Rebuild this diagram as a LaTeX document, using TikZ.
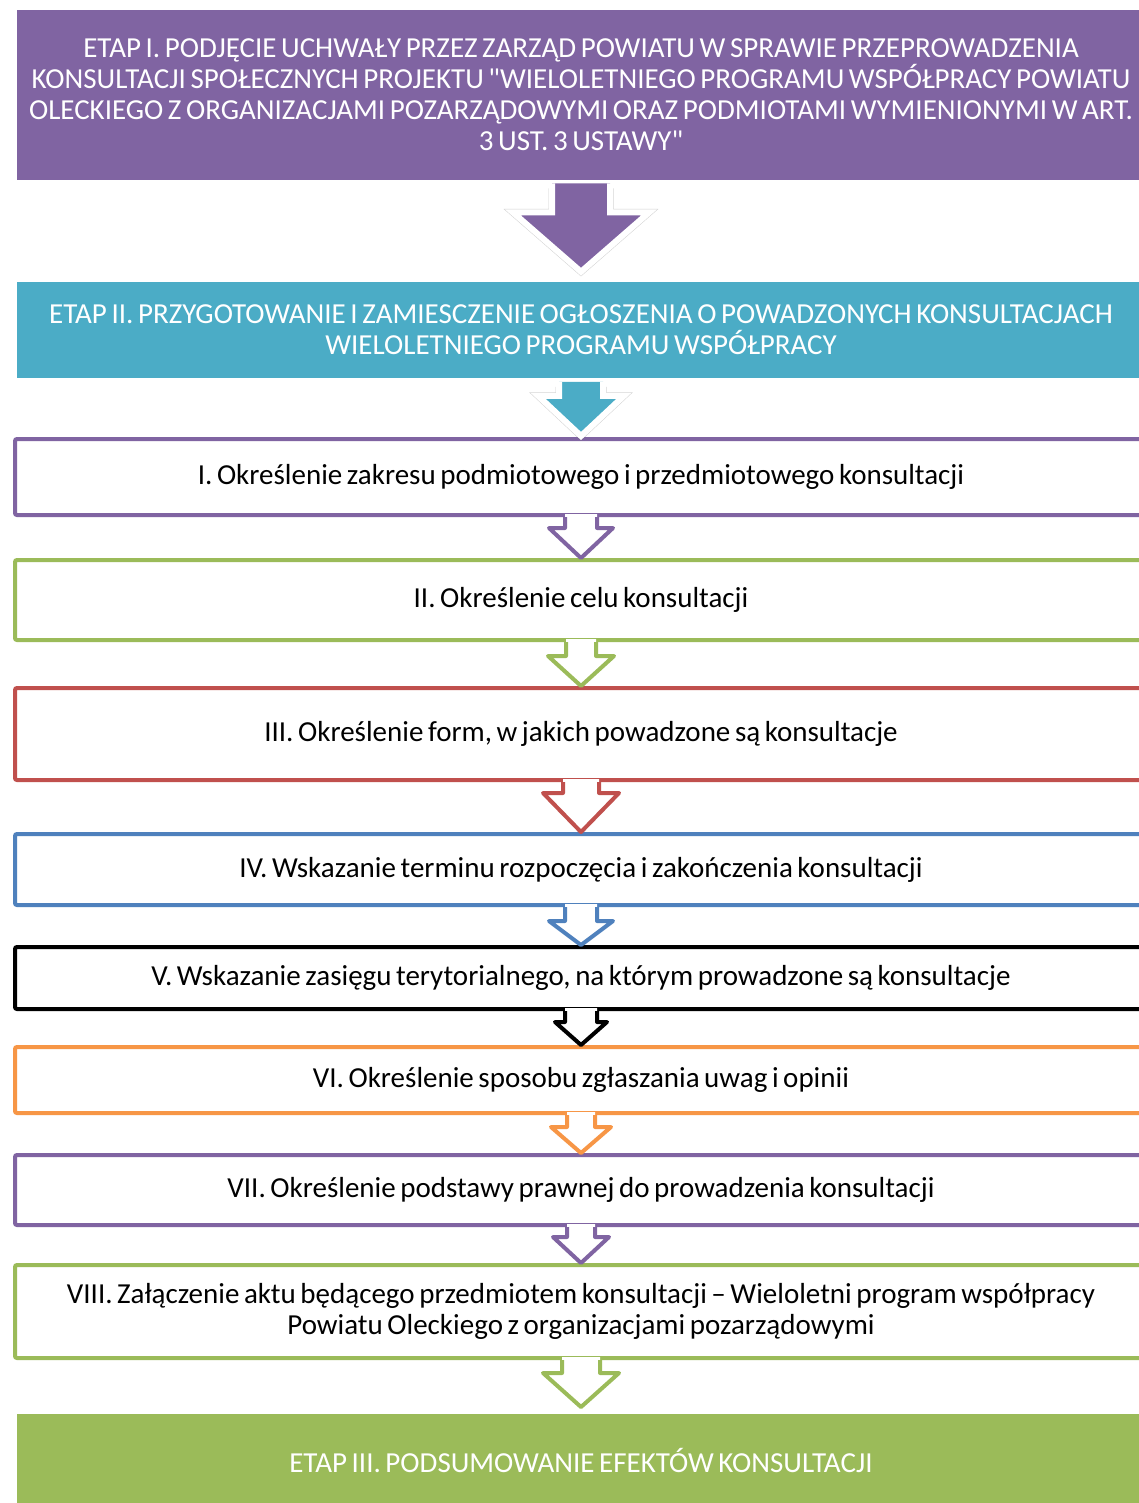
\documentclass[tikz,border=0pt]{standalone}
\usepackage{fontspec}
\setmainfont{Carlito}[WordSpace=0.7, Ligatures=TeXOff]
\usetikzlibrary{shadows,calc}
\definecolor{cpurple}{HTML}{8064A2}
\definecolor{cteal}{HTML}{4BACC6}
\definecolor{cgreen}{HTML}{9BBB59}
\definecolor{cred}{HTML}{C0504D}
\definecolor{cblue}{HTML}{4F81BD}
\definecolor{corange}{HTML}{F79646}
\newcommand\outarrow[6]{%
  \path (#2.south) coordinate (aT) (#3.north) coordinate (aB);
  \fill[white] ($(aT)+(-#4,-3)$) -- ($(aT)+(-#4,#6)$) -- ($(aT)+(-#5,#6)$) -- (aB)
     -- ($(aT)+(#5,#6)$) -- ($(aT)+(#4,#6)$) -- ($(aT)+(#4,-3)$) -- cycle;
  \draw[#1, line width=4pt, line join=round]
     ($(aT)+(-#4,0)$) -- ($(aT)+(-#4,#6)$) -- ($(aT)+(-#5,#6)$) -- (aB)
     -- ($(aT)+(#5,#6)$) -- ($(aT)+(#4,#6)$) -- ($(aT)+(#4,0)$);
}
\newcommand\filarrow[7]{%
  \path ($(#2.south)+(0,-3.5)$) coordinate (aT) ($(#3.north)+(0,-#7)$) coordinate (aB);
  \draw[black!60, opacity=0.3, line width=7pt, line join=miter, shift={(1.5,3)}]
     ($(aT)+(-#4,5)$) -- ($(aT)+(-#4,#6)$) -- ($(aT)+(-#5,#6)$) -- (aB)
     -- ($(aT)+(#5,#6)$) -- ($(aT)+(#4,#6)$) -- ($(aT)+(#4,5)$);
  \fill[#1] ($(aT)+(-#4,0)$) -- ($(aT)+(-#4,#6)$) -- ($(aT)+(-#5,#6)$) -- (aB)
     -- ($(aT)+(#5,#6)$) -- ($(aT)+(#4,#6)$) -- ($(aT)+(#4,0)$) -- cycle;
  \draw[white, line width=6pt, line join=miter]
     ($(aT)+(-#4,0)$) -- ($(aT)+(-#4,#6)$) -- ($(aT)+(-#5,#6)$) -- (aB)
     -- ($(aT)+(#5,#6)$) -- ($(aT)+(#4,#6)$) -- ($(aT)+(#4,0)$);
}
\begin{document}
\begin{tikzpicture}[x=1pt,y=-1pt,
  hdr/.style={fill=#1, draw=white, line width=7pt, inner sep=0pt, text=white,
    align=center, minimum width=1135pt,
    font=\fontsize{29}{31}\selectfont,
    drop shadow={shadow xshift=1pt, shadow yshift=-2.5pt, opacity=0.4, fill=black!60}},
  stepbox/.style={draw=#1, fill=white, line width=4pt, inner sep=0pt, rounded corners=2pt,
    align=center, minimum width=1132pt, text=black,
    font=\fontsize{29}{31}\selectfont}]
\useasboundingbox (0,0) rectangle (1139,1503);
\fill[white] (0,0) rectangle (1139,1503);
\clip (0,0) rectangle (1139,1503);

\node[hdr=cpurple, minimum height=177pt] (e1) at (581,95)
  {ETAP I. PODJĘCIE UCHWAŁY PRZEZ ZARZĄD POWIATU W SPRAWIE PRZEPROWADZENIA\\
   KONSULTACJI SPOŁECZNYCH PROJEKTU "WIELOLETNIEGO PROGRAMU WSPÓŁPRACY POWIATU\\
   OLECKIEGO Z ORGANIZACJAMI POZARZĄDOWYMI ORAZ PODMIOTAMI WYMIENIONYMI W ART.\\
   3 UST. 3 USTAWY"};
\node[hdr=cteal, minimum height=103.5pt] (e2) at (581,330)
  {ETAP II. PRZYGOTOWANIE I ZAMIESCZENIE OGŁOSZENIA O POWADZONYCH KONSULTACJACH\\
   WIELOLETNIEGO PROGRAMU WSPÓŁPRACY};
\node[hdr=cgreen, minimum height=99pt] (e3) at (581,1460)
  {ETAP III. PODSUMOWANIE EFEKTÓW KONSULTACJI};

\node[stepbox=cpurple, minimum height=76pt] (s1) at (581,477)
  {I. Określenie zakresu podmiotowego i przedmiotowego konsultacji};
\node[stepbox=cgreen, minimum height=80pt] (s2) at (581,600)
  {II. Określenie celu konsultacji};
\node[stepbox=cred, minimum height=92pt] (s3) at (581,734)
  {III. Określenie form, w jakich powadzone są konsultacje};
\node[stepbox=cblue, minimum height=71pt] (s4) at (581,869.5)
  {IV. Wskazanie terminu rozpoczęcia i zakończenia konsultacji};
\node[stepbox=black, minimum height=62pt] (s5) at (581,978)
  {V. Wskazanie zasięgu terytorialnego, na którym prowadzone są konsultacje};
\node[stepbox=corange, minimum height=66pt] (s6) at (581,1080)
  {VI. Określenie sposobu zgłaszania uwag i opinii};
\node[stepbox=cpurple, minimum height=70pt] (s7) at (581,1190)
  {VII. Określenie podstawy prawnej do prowadzenia konsultacji};
\node[stepbox=cgreen, minimum height=93pt] (s8) at (581,1311.5)
  {VIII. Załączenie aktu będącego przedmiotem konsultacji – Wieloletni program współpracy\\
   Powiatu Oleckiego z organizacjami pozarządowymi};

\filarrow{cpurple}{e1}{e2}{29}{68}{29}{3}
\filarrow{cteal}{e2}{s1}{22}{43}{14}{1}
\outarrow{cpurple}{s1}{s2}{16}{32}{11}
\outarrow{cgreen}{s2}{s3}{15}{33}{14}
\outarrow{cred}{s3}{s4}{18}{38}{11}
\outarrow{cblue}{s4}{s5}{16}{32}{14}
\outarrow{black}{s5}{s6}{16}{26}{11}
\outarrow{corange}{s6}{s7}{14}{30}{12}
\outarrow{cpurple}{s7}{s8}{14}{28}{10}
\outarrow{cgreen}{s8}{e3}{19}{38}{13}
\end{tikzpicture}
\end{document}
